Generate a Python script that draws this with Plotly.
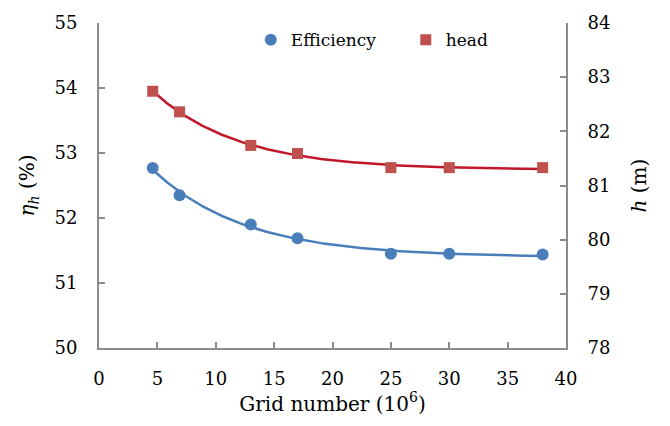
import numpy as np
import plotly.graph_objects as go

# Grid independence data
grid_number = [4.6, 6.9, 13.0, 17.0, 25.0, 30.0, 38.0]          # x 10^6 cells
efficiency = [52.77, 52.35, 51.90, 51.69, 51.45, 51.45, 51.44]   # %
head = [82.74, 82.36, 81.74, 81.59, 81.33, 81.33, 81.33]         # m

BLUE = "#4a7ebb"
RED_MARK = "#c0504d"
RED_LINE = "#c0182a"
AXIS = "#8c8c8c"
FONT = "DejaVu Serif"


def decay_trend(x, y, xs):
    """Least-squares fit of y = a + b*exp(-c*x), scanning the rate c."""
    x = np.asarray(x, float)
    y = np.asarray(y, float)
    best = None
    for c in np.linspace(0.01, 1.0, 400):
        A = np.column_stack([np.ones_like(x), np.exp(-c * x)])
        coef, *_ = np.linalg.lstsq(A, y, rcond=None)
        err = np.sum((A @ coef - y) ** 2)
        if best is None or err < best[0]:
            best = (err, c, coef)
    _, c, (a, b) = best
    return a + b * np.exp(-c * xs)


xs = np.linspace(min(grid_number), max(grid_number), 200)
eff_fit = decay_trend(grid_number, efficiency, xs)
head_fit = decay_trend(grid_number, head, xs)

fig = go.Figure()
fig.add_trace(go.Scatter(x=xs, y=eff_fit, mode="lines", line=dict(color=BLUE, width=2.5),
                         showlegend=False, hoverinfo="skip"))
fig.add_trace(go.Scatter(x=xs, y=head_fit, mode="lines", line=dict(color=RED_LINE, width=2.5),
                         yaxis="y2", showlegend=False, hoverinfo="skip"))
fig.add_trace(go.Scatter(x=grid_number, y=efficiency, mode="markers", name="Efficiency",
                         marker=dict(symbol="circle", size=12, color=BLUE)))
fig.add_trace(go.Scatter(x=grid_number, y=head, mode="markers", name="head", yaxis="y2",
                         marker=dict(symbol="square", size=11, color=RED_MARK)))

tickfont = dict(family=FONT, size=18, color="black")
titlefont = dict(family=FONT, size=20, color="black")
axis_style = dict(showline=True, linecolor=AXIS, linewidth=2, ticks="inside", ticklen=6,
                  tickcolor=AXIS, tickwidth=1.5, showgrid=False, zeroline=False,
                  tickfont=tickfont)

fig.update_layout(
    width=670, height=426,
    margin=dict(l=99, r=104, t=16, b=78),
    paper_bgcolor="white", plot_bgcolor="white",
    font=dict(family=FONT, color="black"),
    xaxis=dict(range=[0, 40], tickvals=[0, 5, 10, 15, 20, 25, 30, 35, 40],
               ticklabelstandoff=13, **axis_style,
               title=dict(text="Grid number (10<sup>6</sup>)", font=titlefont, standoff=9)),
    yaxis=dict(range=[50, 55], tickvals=[50, 51, 52, 53, 54, 55],
               ticklabelstandoff=16, **axis_style,
               title=dict(text="<i>η<sub>h</sub></i> (%)", font=titlefont, standoff=14)),
    yaxis2=dict(range=[78, 84], tickvals=[78, 79, 80, 81, 82, 83, 84], overlaying="y", side="right",
                ticklabelstandoff=16, **axis_style,
                title=dict(text="<i>h</i> (m)", font=titlefont, standoff=22)),
    legend=dict(orientation="h", x=0.325, y=0.947, xanchor="left", yanchor="middle",
                font=dict(family=FONT, size=17, color="black"),
                bgcolor="rgba(0,0,0,0)", itemwidth=30, entrywidth=110, entrywidthmode="pixels"),
)

fig.write_html("out.html")
